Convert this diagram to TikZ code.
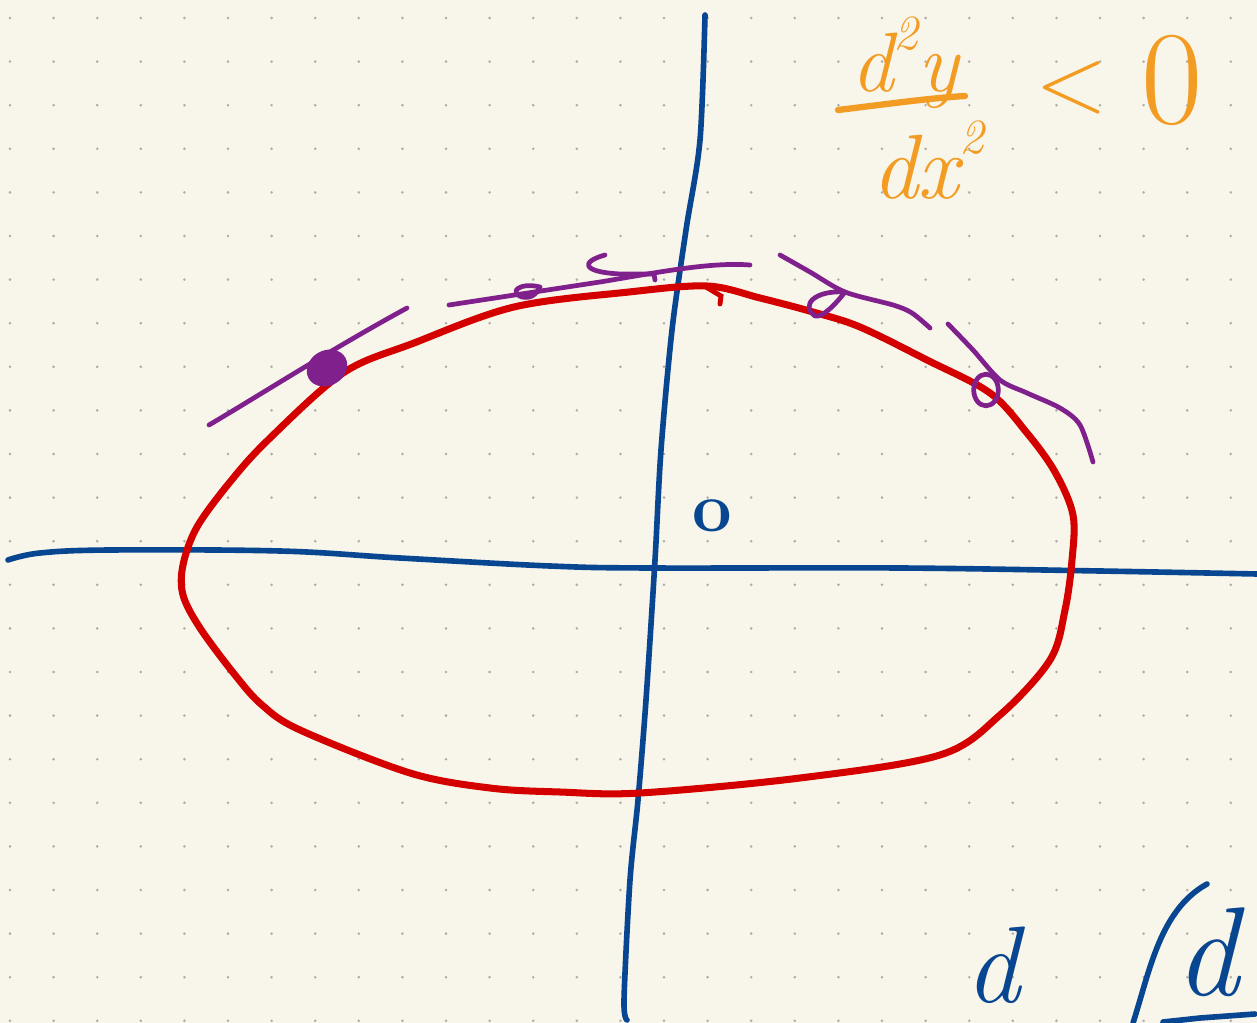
\documentclass[tikz,border=0pt]{standalone}
\usepackage{fontspec}
\usepackage{tikz}
\usetikzlibrary{positioning}

\definecolor{paper}{RGB}{248,246,234}
\definecolor{dotgray}{RGB}{172,172,166}
\definecolor{axisblue}{RGB}{8,70,145}
\definecolor{curvered}{RGB}{212,0,0}
\definecolor{penpurple}{RGB}{128,32,140}
\definecolor{penorange}{RGB}{243,156,35}

\newcommand{\supr}[1]{\raisebox{0.5em}{\fontsize{28}{28}\selectfont #1}}

\tikzset{
  axisline/.style={axisblue, line width=3.2pt, line cap=round, line join=round},
  curveline/.style={curvered, line width=4pt, line join=round},
  tangentline/.style={penpurple, line width=2.7pt, line cap=round, line join=round},
  inkline/.style={penorange, line width=3.6pt, line cap=round},
  orangetext/.style={penorange, inner sep=0pt},
  bluetext/.style={axisblue, inner sep=0pt},
}

\begin{document}
\begin{tikzpicture}[x=0.02cm, y=-0.02cm]
  % Paper and dot grid
  \fill[paper] (0,0) rectangle (1257,1023);
  \useasboundingbox (0,0) rectangle (1257,1023);
  \foreach \i in {0,...,28}
    \foreach \j in {0,...,23}
      \fill[dotgray] (10+43.6*\i, 18+43.6*\j) circle (0.8pt);

  % Axes
  \draw[axisline] plot[smooth, tension=0.6] coordinates {(8,560) (40,553) (110,550)
    (280,551) (400,558) (550,566) (650,568) (900,568) (1100,571) (1257,574)};
  \draw[axisline] plot[smooth] coordinates {(705,15) (700,140) (686,230) (672,330)
    (661,450) (655,560) (646,700) (638,800) (630,880) (624,1000) (627,1020)};
  \node[bluetext, font=\fontsize{40}{40}\selectfont\bfseries] (origin) at (712,516) {o};

  % Closed curve
  \draw[curveline] plot[smooth cycle, tension=0.55] coordinates {(707,286) (760,298)
    (813,312) (860,327) (927,360) (990,393) (1027,433) (1055,472) (1073,515)
    (1072,560) (1065,610) (1050,660) (1000,715) (940,755) (800,778) (640,793)
    (560,792) (490,788) (410,773) (300,730) (262,705) (235,675) (200,628)
    (183,595) (183,565) (197,527) (230,482) (268,440) (343,373) (414,343)
    (514,307) (629,292)};
  \draw[curvered, line width=2.8pt, line cap=round] (706,287) -- (721,296) -- (720,304);

  % Tangents along the top
  \draw[tangentline] (209,425) .. controls (260,395) and (330,350) .. (407,308);
  \fill[penpurple, shift={(327,368)}, rotate=30] (0,0) ellipse [x radius=12pt, y radius=10pt];

  \draw[tangentline] (449,305) -- (600,282) .. controls (660,272) and (710,262) .. (750,265);
  \draw[tangentline] (540,287) .. controls (520,282) and (508,292) .. (522,297)
    .. controls (532,299) and (537,293) .. (540,287);
  \draw[tangentline] (605,255) .. controls (580,262) and (582,272) .. (620,274)
    -- (654,274) -- (655,280);

  \draw[tangentline] plot[smooth] coordinates {(780,255) (810,272) (845,292)
    (893,305) (912,313) (930,328)};
  \draw[tangentline] (845,292) .. controls (815,290) and (800,305) .. (815,316)
    .. controls (822,318) and (835,305) .. (845,292);

  \draw[tangentline] plot[smooth] coordinates {(948,324) (973,350) (1000,380)
    (1027,393) (1060,408) (1080,425) (1093,462)};
  \draw[tangentline] (986,390) ellipse [x radius=7pt, y radius=9pt];

  % Second derivative
  \node[orangetext, anchor=base, font=\fontsize{48}{48}\selectfont\itshape] (numer) at (905,92) {d\supr{2}y};
  \draw[inkline] (838,110) .. controls (880,105) and (930,98) .. (965,96);
  \node[orangetext, font=\fontsize{52}{52}\selectfont\itshape] (denom) at (928,160) {dx\supr{2}};
  \node[orangetext, font=\fontsize{54}{54}\selectfont] (less) at (1072,88) {<};
  \node[orangetext, font=\fontsize{76}{76}\selectfont] (zero) at (1172,80) {0};

  % Bottom corner
  \node[bluetext, anchor=base, font=\fontsize{62}{62}\selectfont\itshape] (dleft) at (993,1002) {d};
  \node[bluetext, anchor=base, font=\fontsize{72}{72}\selectfont\itshape] (dright) at (1207,995) {d};
  \draw[axisline] (1133,1023) .. controls (1150,970) and (1160,910) .. (1207,884);
  \draw[axisline] (1163,1022) -- (1200,1018) -- (1255,1014);
\end{tikzpicture}
\end{document}
